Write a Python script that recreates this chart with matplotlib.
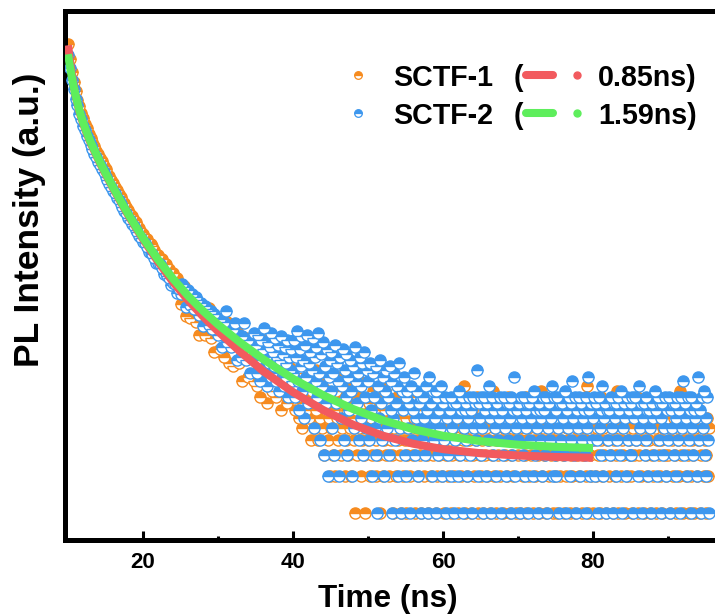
import numpy as np
import matplotlib
matplotlib.use("Agg")
import matplotlib.pyplot as plt
from matplotlib.lines import Line2D

# ---------------- data ----------------
# early part of the decay: channels every 0.25 ns from 10 ns
head_start, head_step = 10.0, 0.25
# tail of the decay: channels every 0.125 ns from 35 ns
tail_start, tail_step = 35.0, 0.125

sctf1_head = [
    6950, 5300, 4150, 3420, 2880, 2450, 2180, 1900, 1735, 1540,
    1420, 1275, 1195, 1090, 1025, 935, 878, 806, 762, 699,
    660, 606, 577, 532, 505, 467, 445, 411, 392, 363,
    346, 320, 306, 283, 271, 252, 243, 224, 217, 201,
    194, 181, 176, 161, 159, 155, 143, 130, 130, 116,
    120, 106, 109, 101, 100, 86, 92, 77, 85, 72,
    52, 63, 72, 41, 55, 40, 51, 58, 37, 45,
    29, 47, 41, 29, 38, 48, 27, 35, 21, 33,
    39, 22, 30, 19, 28, 37, 17, 25, 16, 24,
    31, 17, 22, 12, 21, 27, 13, 19, 24, 12,
]
sctf1_tail = [
    14, 19, 11, 23, 16, 9, 21, 13, 17, 26, 12, 15, 8, 20, 14, 18, 11, 24, 10, 16,
    13, 19, 9, 22, 15, 12, 17, 7, 20, 11, 14, 25, 10, 16, 8, 18, 13, 21, 9, 12,
    11, 16, 7, 13, 9, 18, 6, 12, 10, 15, 5, 8, 14, 11, 7, 17, 9, 6, 12, 4,
    10, 13, 5, 8, 15, 7, 11, 4, 9, 6, 14, 5, 8, 3, 12, 7, 10, 4, 6, 2,
    9, 5, 12, 3, 7, 2, 10, 6, 4, 8, 13, 3, 5, 9, 6, 2, 11, 4, 7, 3,
    8, 5, 2, 10, 6, 4, 1, 7, 3, 9, 5, 12, 2, 6, 4, 8, 3, 1, 7, 5,
    4, 8, 2, 6, 3, 10, 5, 7, 2, 4, 9, 3, 6, 1, 5, 8, 2, 4, 7, 3,
    11, 5, 2, 6, 4, 8, 3, 1, 5, 7, 2, 9, 4, 6, 3, 1, 5, 2, 8, 4,
    6, 1, 3, 7, 4, 2, 9, 5, 3, 6, 1, 4, 8, 2, 5, 3, 7, 1, 4, 6,
    2, 10, 5, 3, 1, 7, 4, 2, 6, 3, 8, 5, 1, 4, 2, 7, 3, 6, 9, 2,
    4, 1, 5, 3, 7, 2, 6, 4, 1, 8, 3, 5, 2, 9, 4, 6, 1, 3, 7, 2,
    5, 4, 11, 1, 6, 3, 2, 8, 4, 5, 1, 7, 3, 2, 6, 4, 9, 1, 5, 3,
    2, 6, 4, 1, 8, 3, 5, 2, 7, 4, 1, 6, 3, 10, 2, 5, 4, 1, 7, 3,
    6, 2, 4, 8, 1, 5, 3, 6, 2, 9, 4, 1, 7, 3, 5, 2, 4, 6, 1, 8,
    3, 5, 1, 4, 7, 2, 6, 3, 9, 1, 4, 5, 2, 8, 3, 6, 1, 4, 2, 7,
    5, 3, 1, 6, 4, 10, 2, 5, 3, 7, 1, 4, 6, 2, 8, 3, 5, 1, 4, 2,
    6, 3, 1, 5, 8, 2, 4, 7, 3, 1, 6, 2, 5, 4, 9, 1, 3, 6, 2, 7,
    4, 1, 5, 3, 8, 2, 6, 4, 1, 3, 7, 5, 2, 4, 11, 1, 6, 3, 2, 5,
    1, 4, 7, 2, 5, 3, 6, 1, 9, 4, 2, 5, 3, 7, 1, 4, 6, 2, 8, 3,
    5, 1, 4, 2, 6, 3, 10, 1, 5, 7, 2, 4, 3, 6, 1, 8, 2, 5, 4, 3,
    7, 2, 1, 5, 3, 6, 4, 9, 1, 3, 5, 2, 7, 4, 1, 6, 3, 8, 2, 5,
    4, 1, 6, 3, 2, 7, 5, 1, 4, 9, 3, 2, 6, 4, 1, 5, 8, 3, 2, 6,
    3, 5, 1, 7, 4, 2, 6, 3, 8, 1, 5, 4, 2, 10, 3, 6, 1, 4, 7, 2,
    5, 3, 1, 6, 2, 8, 4, 3, 1, 5, 7, 2, 4, 6, 1, 3, 9, 5, 2, 4,
    3, 1, 6, 2, 5,
]

sctf2_head = [
    5690, 4420, 3560, 2980, 2490, 2200, 1880, 1700, 1490, 1370,
    1230, 1140, 1035, 968, 884, 832, 758, 718, 660, 622,
    571, 541, 498, 474, 437, 416, 385, 367, 339, 324,
    299, 286, 264, 253, 234, 226, 209, 201, 187, 180,
    167, 162, 151, 138, 136, 133, 123, 112, 111, 109,
    101, 91, 92, 88, 84, 74, 77, 75, 64, 69,
    63, 75, 71, 49, 67, 51, 63, 47, 59, 56,
    42, 53, 34, 50, 47, 35, 45, 32, 43, 40,
    29, 39, 23, 37, 45, 25, 33, 23, 32, 36,
    18, 29, 19, 28, 36, 18, 26, 14, 24, 30,
]
sctf2_tail = [
    18, 24, 14, 29, 20, 12, 26, 16, 22, 33, 15, 19, 11, 25, 17, 23, 13, 30, 14, 21,
    16, 27, 12, 19, 24, 10, 18, 28, 15, 20, 11, 23, 17, 13, 26, 9, 19, 15, 22, 12,
    14, 26, 9, 19, 31, 12, 7, 22, 16, 28, 10, 18, 6, 24, 13, 29, 8, 17, 21, 11,
    15, 27, 5, 19, 12, 23, 9, 30, 14, 4, 20, 11, 25, 3, 16, 8, 22, 2, 13, 18,
    10, 21, 5, 14, 3, 24, 8, 17, 12, 2, 19, 6, 11, 22, 4, 15, 9, 20, 3, 13,
    7, 18, 10, 2, 16, 5, 23, 12, 8, 14, 4, 19, 6, 11, 17, 3, 21, 9, 5, 15,
    12, 4, 17, 7, 2, 14, 9, 5, 16, 3, 1, 11, 6, 18, 8, 4, 13, 2, 10, 15,
    5, 9, 3, 16, 7, 12, 1, 6, 14, 4, 8, 11, 2, 17, 5, 1, 10, 7, 13, 3,
    9, 2, 10, 5, 8, 1, 11, 4, 7, 14, 3, 6, 10, 2, 8, 5, 1, 9, 4, 9,
    6, 3, 11, 7, 1, 13, 5, 8, 2, 10, 4, 6, 10, 1, 9, 3, 7, 5, 11, 2,
    8, 4, 9, 1, 6, 3, 7, 7, 2, 9, 5, 8, 1, 4, 8, 6, 2, 10, 3, 7,
    9, 1, 5, 7, 4, 8, 2, 6, 9, 3, 7, 1, 9, 5, 8, 4, 15, 2, 8, 6,
    3, 9, 5, 1, 9, 7, 2, 8, 4, 11, 6, 1, 9, 3, 7, 5, 8, 2, 8, 4,
    6, 9, 1, 7, 3, 9, 5, 2, 8, 4, 8, 6, 1, 9, 3, 7, 13, 2, 5, 7,
    4, 8, 1, 9, 6, 3, 9, 2, 7, 5, 8, 1, 8, 4, 6, 9, 2, 10, 3, 7,
    5, 1, 8, 7, 4, 6, 2, 9, 7, 3, 9, 1, 5, 8, 4, 6, 11, 2, 9, 3,
    7, 2, 9, 5, 1, 8, 4, 8, 6, 3, 10, 1, 7, 5, 9, 2, 8, 4, 12, 6,
    3, 9, 1, 7, 5, 9, 2, 8, 4, 6, 7, 3, 9, 1, 5, 13, 7, 2, 8, 4,
    6, 9, 2, 8, 4, 1, 9, 5, 7, 3, 11, 2, 6, 8, 1, 7, 4, 7, 3, 9,
    5, 1, 8, 6, 2, 8, 4, 9, 7, 3, 10, 1, 5, 8, 6, 2, 9, 4, 7, 3,
    8, 3, 9, 1, 6, 9, 4, 7, 2, 11, 5, 8, 1, 6, 8, 3, 9, 4, 7, 2,
    7, 5, 1, 8, 6, 3, 10, 7, 2, 9, 4, 8, 1, 6, 8, 3, 5, 9, 2, 7,
    4, 9, 1, 7, 5, 8, 3, 8, 6, 2, 9, 4, 7, 1, 9, 5, 12, 3, 8, 6,
    2, 9, 4, 7, 1, 9, 5, 3, 7, 6, 8, 2, 13, 4, 7, 1, 9, 5, 10, 3,
    6, 2, 9, 4, 1,
]

fit_t = [10, 10.25, 10.5, 10.75, 11, 11.5, 12, 12.5, 13, 14, 15, 16, 17, 18,
         19, 20, 22, 24, 26, 28, 30, 33, 36, 40, 44, 48, 52, 56, 60, 65, 70,
         75, 80]
fit1 = [6823, 5168, 4028, 3229, 2659, 1975, 1570, 1290, 1085, 798, 601, 460,
        357, 278, 220, 176, 115, 78.3, 55.6, 40.9, 30.9, 20.9, 14.6, 9.8, 7.0,
        5.3, 4.3, 3.7, 3.34, 3.09, 2.96, 2.88, 2.84]
fit2 = [5763, 4617, 3772, 3144, 2669, 2016, 1601, 1317, 1107, 814, 613, 469,
        364, 284, 225, 180, 119.7, 83.3, 60.4, 45.4, 35.1, 24.9, 18.3, 12.6,
        9.26, 7.12, 5.75, 4.87, 4.3, 3.88, 3.63, 3.49, 3.41]

series_names = ["SCTF-1", "SCTF-2"]
lifetimes = ["0.85ns)", "1.59ns)"]
x_ticks = [20, 40, 60, 80]
x_minor = [30, 50, 70, 90]

# ---------------- style ----------------
orange = "#F68B1F"
blue = "#3D97EE"
red = "#F25A5E"
green = "#5EEE5C"

plt.rcParams["font.family"] = ["Liberation Sans", "DejaVu Sans"]
plt.rcParams["font.weight"] = "bold"

W, H = 715, 614
fig = plt.figure(figsize=(W / 100, H / 100), dpi=100)
ax = fig.add_axes([65 / W, 74 / H, 675 / W, 529 / H])


def channel_times(head, tail):
    th = head_start + head_step * np.arange(len(head))
    tt = tail_start + tail_step * np.arange(len(tail))
    return np.concatenate([th, tt]), np.concatenate([head, tail])


t1, c1 = channel_times(sctf1_head, sctf1_tail)
t2, c2 = channel_times(sctf2_head, sctf2_tail)

mk = dict(linestyle="none", marker="o", markersize=8.0, fillstyle="top",
          markerfacecoloralt="white", markeredgewidth=1.0)
ax.plot(t1, c1, markerfacecolor=orange, markeredgecolor=orange,
        zorder=2, **mk)
ax.plot(t2, c2, markerfacecolor=blue, markeredgecolor=blue,
        zorder=3, **mk)
ax.plot(fit_t, fit1, color=red, lw=5.8, solid_capstyle="butt", zorder=4)
ax.plot(fit_t, fit2, color=green, lw=5.8, solid_capstyle="butt", zorder=5)

ax.set_yscale("log")
ax.set_ylim(0.601, 13030)
ax.set_xlim(9.6, 99.6)

for s in ax.spines.values():
    s.set_linewidth(3.6)
ax.set_xticks(x_ticks)
ax.set_xticks(x_minor, minor=True)
ax.tick_params(axis="x", which="major", direction="in", length=6.5, width=2.2,
               labelsize=16, pad=9)
ax.tick_params(axis="x", which="minor", direction="in", length=3, width=2.2)
ax.tick_params(axis="y", which="both", left=False, right=False,
               labelleft=False)
for lab in ax.get_xticklabels():
    lab.set_fontweight("bold")

ax.set_xlabel("Time (ns)", fontsize=22.7, fontweight="bold")
ax.xaxis.set_label_coords(388 / W, 1 - 607 / H, transform=fig.transFigure)
ax.xaxis.label.set_va("baseline")
ax.set_ylabel("PL Intensity (a.u.)", fontsize=25.5, fontweight="bold")
ax.yaxis.set_label_coords(30 / W, 1 - 220 / H, transform=fig.transFigure)
ax.yaxis.label.set_va("center")

# ---------------- legend (drawn in figure pixels) ----------------
def fx(px):
    return px / W


def fy(py):
    return 1 - py / H


rows = [(75, orange, red), (113, blue, green)]
for (yc, mcol, lcol), name, tau in zip(rows, series_names, lifetimes):
    fig.add_artist(Line2D([fx(358)], [fy(yc)], transform=fig.transFigure,
                          linestyle="none", marker="o", markersize=5.5,
                          fillstyle="top", markerfacecolor=mcol,
                          markerfacecoloralt="white", markeredgecolor=mcol,
                          markeredgewidth=0.9))
    fig.text(fx(393), fy(yc + 11), name, fontsize=20.6, fontweight="bold",
             va="baseline", ha="left")
    fig.text(fx(514), fy(yc + 11), "(", fontsize=20.6, fontweight="bold",
             va="baseline", ha="left")
    fig.add_artist(Line2D([fx(526), fx(553)], [fy(yc), fy(yc)],
                          transform=fig.transFigure, color=lcol, lw=5.8,
                          solid_capstyle="round"))
    fig.add_artist(Line2D([fx(577)], [fy(yc)], transform=fig.transFigure,
                          linestyle="none", marker="o", markersize=5,
                          markerfacecolor=lcol, markeredgecolor=lcol))
    fig.text(fx(598), fy(yc + 11), tau, fontsize=20.6, fontweight="bold",
             va="baseline", ha="left")

fig.savefig("out.png", dpi=100)
